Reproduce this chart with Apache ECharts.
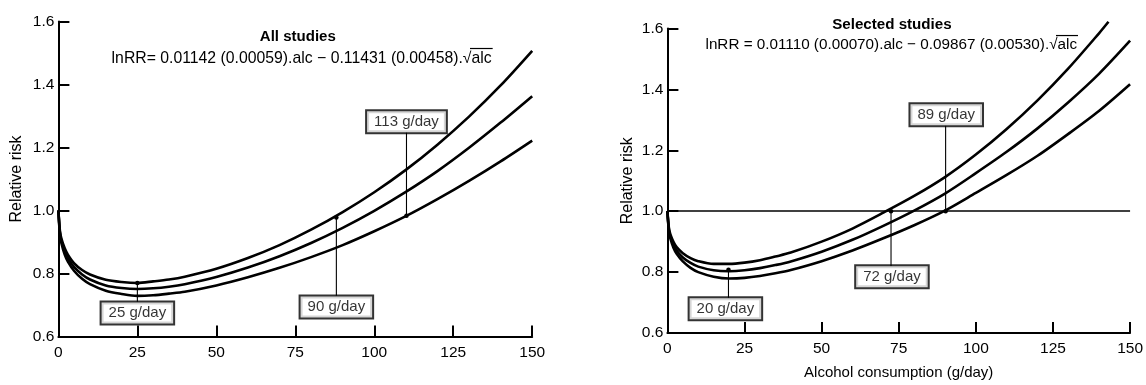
<!DOCTYPE html>
<html>
<head>
<meta charset="utf-8">
<script src="https://cdn.jsdelivr.net/npm/echarts@6/dist/echarts.min.js"></script>
<style>html,body{margin:0;padding:0;background:#fff}#c{width:1146px;height:385px}</style>
</head>
<body>
<div id="c"></div>
<script>
// ---------------- data ----------------
const alc = [0,0.5,1,2,3,5,7.5,10,15,20,25,30,35,40,50,60,70,80,90,100,110,120,130,140,150];
const xTicks = [0,25,50,75,100,125,150];
const yTicks = [0.6,0.8,1.0,1.2,1.4,1.6];

// All studies
const allUpper = [1.000,0.934,0.909,0.880,0.860,0.832,0.811,0.797,0.780,0.773,0.770,0.775,0.781,0.790,0.815,0.849,0.890,0.939,0.995,1.058,1.129,1.209,1.298,1.397,1.507];
const allMid   = [1.000,0.928,0.902,0.870,0.849,0.820,0.797,0.781,0.762,0.754,0.751,0.753,0.758,0.766,0.789,0.819,0.855,0.897,0.945,0.999,1.059,1.125,1.199,1.279,1.363];
const allLower = [1.000,0.922,0.895,0.860,0.838,0.808,0.783,0.766,0.745,0.735,0.729,0.731,0.736,0.742,0.762,0.788,0.818,0.852,0.890,0.934,0.982,1.036,1.094,1.156,1.222];

// Selected studies
const selUpperAlc = [0,0.5,1,2,3,5,7.5,10,15,20,25,30,35,40,50,60,70,80,90,100,110,120,130,140,143];
const selUpper = [1.000,0.944,0.923,0.899,0.882,0.862,0.846,0.836,0.827,0.827,0.831,0.839,0.851,0.864,0.900,0.943,0.995,1.050,1.112,1.186,1.270,1.364,1.469,1.585,1.622];
const selMid   = [1.000,0.938,0.916,0.889,0.871,0.848,0.830,0.818,0.806,0.803,0.806,0.813,0.823,0.835,0.867,0.906,0.952,1.002,1.058,1.125,1.195,1.272,1.358,1.452,1.560];
const selLower = [1.000,0.932,0.909,0.879,0.860,0.835,0.814,0.800,0.785,0.779,0.781,0.787,0.796,0.807,0.836,0.871,0.911,0.954,1.002,1.060,1.119,1.182,1.254,1.330,1.417];
const selRef = 1.0;

// Annotations: vertical line x, line from (curve, dotted end) to box edge, box centre
const allAnnoLabel = ['25 g/day','90 g/day','113 g/day'];
const allAnnoX     = [25, 88, 110.2];
const allAnnoFrom  = [0.770, 0.978, 0.983];
const allAnnoTo    = [0.710, 0.729, 1.248];
const allBoxX      = [25, 88, 110.2];
const allBoxY      = [0.675, 0.694, 1.282];

const selAnnoLabel = ['20 g/day','72 g/day','89 g/day'];
const selAnnoX     = [19.8, 72.5, 90.2];
const selAnnoFrom  = [0.808, 1.0, 1.0];
const selAnnoTo    = [0.716, 0.819, 1.281];
const selBoxX      = [18.8, 72.8, 90.4];
const selBoxY      = [0.680, 0.785, 1.317];

const titles = ['All studies','Selected studies'];
const eqPrefix = ['lnRR= 0.01142 (0.00059).alc \u2212 0.11431 (0.00458).', 'lnRR = 0.01110 (0.00070).alc \u2212 0.09867 (0.00530).'];
const eqRadicand = 'alc';
const yName = 'Relative risk';
const xName = 'Alcohol consumption (g/day)';

// ---------------- layout ----------------
const FONT = '"Liberation Sans", Arial, Helvetica, sans-serif';
const grids = [
  {left: 58.4, top: 21.5, width: 473.8, height: 315},
  {left: 667.4, top: 28.5, width: 464.3, height: 308}
];
const cv = document.createElement('canvas').getContext('2d');
function tw(t, fs, w){ cv.font = (w||'normal') + ' ' + fs + 'px ' + FONT; return cv.measureText(t).width; }

function zip(xs, ys){ return xs.map((x,i)=>[x, ys[i]]); }

function curve(xi, xs, ys, extra){
  return Object.assign({
    type:'line', xAxisIndex:xi, yAxisIndex:xi, data: zip(xs, ys),
    showSymbol:false, smooth:0.3, lineStyle:{color:'#000', width:2.6},
    silent:true, animation:false, z:3
  }, extra||{});
}

function annoSeries(xi, xs, from, to){
  return xs.map((x,i)=>({
    type:'line', xAxisIndex:xi, yAxisIndex:xi,
    data:[{value:[x, from[i]], symbol:'circle', symbolSize:4.5}, {value:[x, to[i]], symbol:'none'}],
    showSymbol:true, symbol:'circle', symbolSize:4.5,
    itemStyle:{color:'#000'}, lineStyle:{color:'#000', width:1.1},
    silent:true, animation:false, z:4
  }));
}

function boxSeries(xi, xs, ys, labels){
  return {
    type:'scatter', xAxisIndex:xi, yAxisIndex:xi,
    data: xs.map((x,i)=>({value:[x, ys[i]], name: labels[i]})),
    symbolSize:1, itemStyle:{color:'rgba(0,0,0,0)'},
    label:{show:true, position:'inside', formatter:p=>p.name, color:'#000',
      fontSize:15, fontFamily:FONT, lineHeight:16, padding:[3,7,2,7],
      backgroundColor:'#fff', borderColor:'#000', borderWidth:2},
    silent:true, animation:false, z:6
  };
}

function xAx(gi, withName){
  const a = {gridIndex:gi, type:'value', min:xTicks[0], max:xTicks[xTicks.length-1], interval:xTicks[1]-xTicks[0],
    axisLine:{lineStyle:{color:'#000', width:2}},
    axisTick:{inside:true, length:11, lineStyle:{color:'#000', width:2}},
    axisLabel:{color:'#000', fontSize:15.5, fontFamily:FONT, margin:8, showMinLabel:true, showMaxLabel:true},
    splitLine:{show:false}};
  if (withName){ Object.assign(a, {name:xName, nameLocation:'middle', nameGap:32,
    nameTextStyle:{color:'#000', fontSize:15, fontFamily:FONT}}); }
  return a;
}
function yAx(gi, gap){
  return {gridIndex:gi, type:'value', min:yTicks[0], max:yTicks[yTicks.length-1], interval:0.2,
    axisLine:{show:true, lineStyle:{color:'#000', width:2}},
    axisTick:{show:true, inside:true, length:11, lineStyle:{color:'#000', width:2}},
    axisLabel:{color:'#000', fontSize:15.5, fontFamily:FONT, margin:4, formatter:v=>v.toFixed(1), showMinLabel:true, showMaxLabel:true},
    splitLine:{show:false},
    name:yName, nameLocation:'middle', nameGap:gap,
    nameTextStyle:{color:'#000', fontSize:16, fontFamily:FONT}};
}

// title + equation graphics
const titlePos = [{cx:297.8, cy:36.7, w:76}, {cx:891.9, cy:25, w:119.6}];
const eqPos = [{l:111.6, r:492.1, cy:58.3}, {l:705.5, r:1077.2, cy:45}];
const graphics = [];
titles.forEach((t,i)=>{
  const fs = 15 * titlePos[i].w / tw(t, 15, 'bold');
  graphics.push({type:'text', x:titlePos[i].cx, y:titlePos[i].cy, silent:true,
    style:{text:t, fontSize:fs, fontFamily:FONT, fontWeight:'bold', fill:'#000',
      textAlign:'center', textVerticalAlign:'middle', align:'center', verticalAlign:'middle'}});
});
eqPrefix.forEach((p,i)=>{
  const e = eqPos[i];
  const full = p + '\u221A' + eqRadicand;
  const fs = 15 * (e.r - e.l) / tw(full, 15);
  const wP = tw(p, fs), wS = tw('\u221A', fs), wR = tw(eqRadicand, fs);
  const mk = (txt, x)=>({type:'text', x:x, y:e.cy, silent:true,
    style:{text:txt, fontSize:fs, fontFamily:FONT, fill:'#000',
      textAlign:'left', textVerticalAlign:'middle', align:'left', verticalAlign:'middle'}});
  graphics.push(mk(p, e.l));
  graphics.push(mk('\u221A', e.l + wP));
  graphics.push(mk(eqRadicand, e.l + wP + wS));
  const yTop = e.cy - fs*0.62;
  graphics.push({type:'line', silent:true,
    shape:{x1:e.l + wP + wS - 1.5, y1:yTop, x2:e.l + wP + wS + wR + 1, y2:yTop},
    style:{stroke:'#000', lineWidth:1.2}});
});

const option = {
  animation:false,
  backgroundColor:'#fff',
  textStyle:{fontFamily:FONT},
  grid: grids.map(g=>Object.assign({containLabel:false}, g)),
  xAxis:[xAx(0,false), xAx(1,true)],
  yAxis:[yAx(0,34), yAx(1,32)],
  graphic: graphics,
  series:[
    curve(0, alc, allUpper),
    curve(0, alc, allMid),
    curve(0, alc, allLower),
    curve(1, selUpperAlc, selUpper, {clip:false}),
    curve(1, alc, selMid, {markLine:{silent:true, symbol:['none','none'], label:{show:false},
      lineStyle:{color:'#000', width:1.6, type:'solid'}, data:[{yAxis:selRef}], animation:false}}),
    curve(1, alc, selLower),
    ...annoSeries(0, allAnnoX, allAnnoFrom, allAnnoTo),
    ...annoSeries(1, selAnnoX, selAnnoFrom, selAnnoTo),
    boxSeries(0, allBoxX, allBoxY, allAnnoLabel),
    boxSeries(1, selBoxX, selBoxY, selAnnoLabel)
  ]
};
const chart = echarts.init(document.getElementById('c'), null, {renderer:'canvas'});
chart.setOption(option);
</script>
</body>
</html>
